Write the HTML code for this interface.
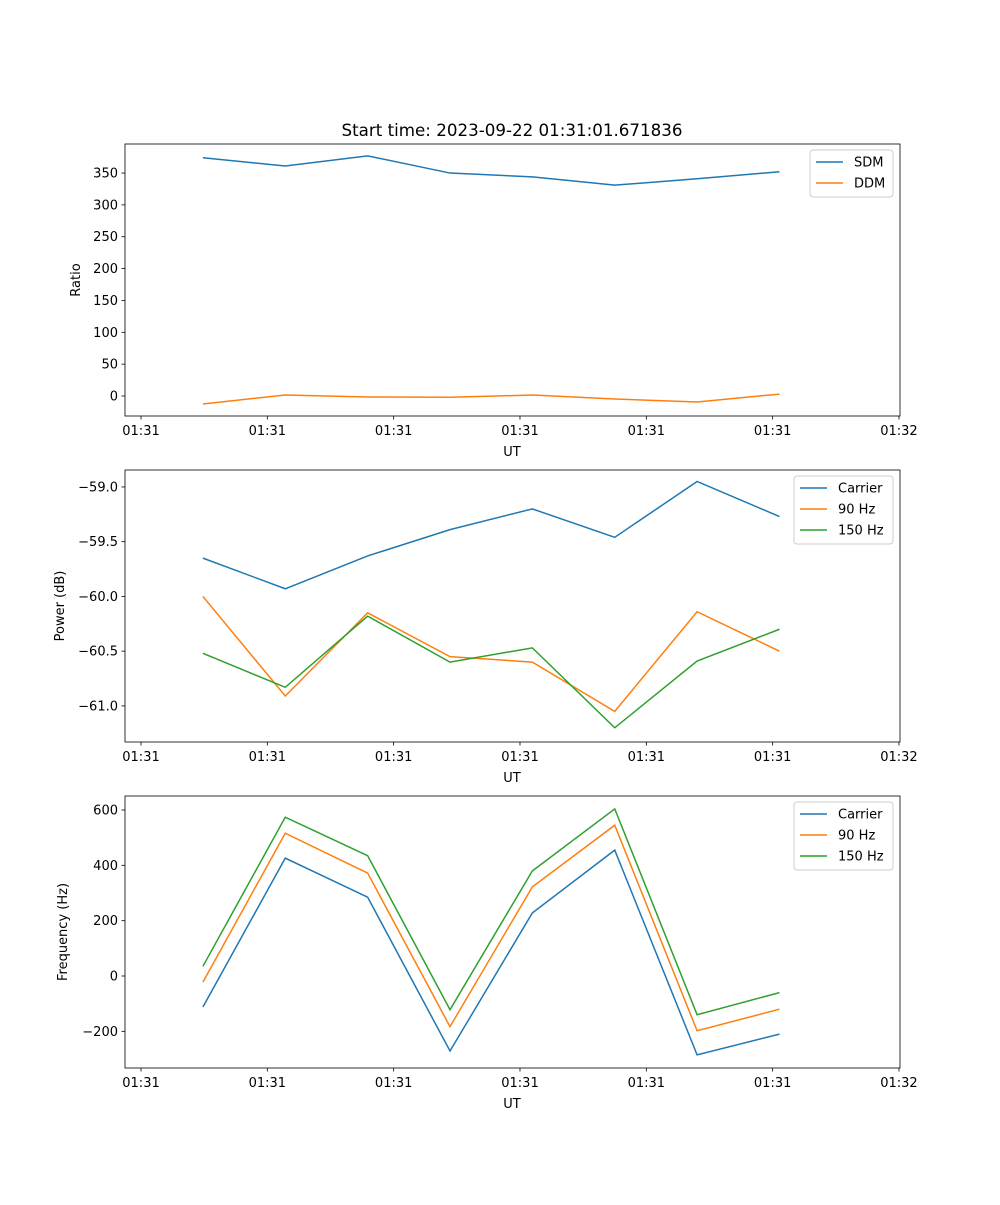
<!DOCTYPE html>
<html><head><meta charset="utf-8"><style>
body{margin:0;background:#fff}
svg text{font-family:"DejaVu Sans","Liberation Sans",sans-serif;fill:#000}
</style></head><body>
<svg id="fig" width="1000" height="1200" xmlns="http://www.w3.org/2000/svg"></svg>
<script>
const times = [0.49, 1.142, 1.794, 2.446, 3.098, 3.75, 4.402, 5.054];
const xTickVals = [0,1,2,3,4,5,6];
const xTickLabels = ["01:31","01:31","01:31","01:31","01:31","01:31","01:32"];
const sdm = [374, 361, 377, 350, 344, 331, 341, 352];
const ddm = [-12.5, 1.6, -1.6, -2, 1.5, -4.7, -9.4, 3];
const powCarrier = [-59.65, -59.93, -59.63, -59.39, -59.2, -59.46, -58.95, -59.27];
const pow90 = [-60.0, -60.91, -60.15, -60.55, -60.6, -61.05, -60.14, -60.5];
const pow150 = [-60.52, -60.83, -60.18, -60.6, -60.47, -61.2, -60.59, -60.3];
const freqCarrier = [-112, 426, 285, -271, 228, 455, -285, -210];
const freq90 = [-22, 516, 372, -183, 322, 545, -198, -120];
const freq150 = [35, 574, 435, -122, 380, 604, -140, -60];
const ticks1 = [0,50,100,150,200,250,300,350];
const ticks2 = [-59.0,-59.5,-60.0,-60.5,-61.0];
const ticks2Labels = ["\u221259.0","\u221259.5","\u221260.0","\u221260.5","\u221261.0"];
const ticks3 = [-200,0,200,400,600];
const ticks3Labels = ["\u2212200","0","200","400","600"];

const NS="http://www.w3.org/2000/svg";
const svg=document.getElementById('fig');
function mk(tag,attrs,parent){const e=document.createElementNS(NS,tag);for(const k in attrs)e.setAttribute(k,attrs[k]);(parent||svg).appendChild(e);return e;}
const X0=125,X1=900;
const xScale=t=>141+t*126.33;

function panel(name,top,ymin,ymax,yt,ytl,series,ylabel,legend){
  const bot=top+272;
  const g=mk('g',{});
  
  
  const ys=v=>bot-(v-ymin)/(ymax-ymin)*272;
  series.forEach(s=>{
    const p=mk('polyline',{points:s.v.map((v,i)=>xScale(times[i])+','+ys(v)).join(' '),fill:'none',stroke:s.c,'stroke-width':1.5},g);
    
    
  });
  mk('rect',{x:X0,y:top,width:X1-X0,height:272,fill:'none',stroke:'#000','stroke-width':0.8},g);
  xTickVals.forEach((t,i)=>{
    const x=xScale(t);
    mk('line',{x1:x,x2:x,y1:bot,y2:bot+3.5,stroke:'#000','stroke-width':0.8},g);
    const tx=mk('text',{x:x,y:bot+19,'font-size':13,'text-anchor':'middle'},g);tx.textContent=xTickLabels[i];
  });
  const xl=mk('text',{x:512,y:bot+40,'font-size':13,'text-anchor':'middle'},g);xl.textContent='UT';
  
  
  yt.forEach((v,i)=>{
    const y=ys(v);
    mk('line',{x1:X0-3.5,x2:X0,y1:y,y2:y,stroke:'#000','stroke-width':0.8},g);
    const tx=mk('text',{x:X0-7,y:y+4.5,'font-size':13,'text-anchor':'end'},g);tx.textContent=ytl[i];
  });
  const yl=mk('text',{x:0,y:0,'font-size':13,'text-anchor':'middle',transform:`translate(${legend.yx},${top+136}) rotate(-90)`},g);yl.textContent=ylabel;
  
  
  const lg=mk('g',{},g);
  
  
  mk('rect',{x:legend.x,y:top+6,width:X1-7-legend.x,height:series.length*21+5,rx:3,fill:'#fff',stroke:'#ccc'},lg);
  series.forEach((s,i)=>{
    const y=top+18+i*21;
    mk('line',{x1:legend.x+6,x2:legend.x+33,y1:y,y2:y,stroke:s.c,'stroke-width':1.5},lg);
    const t=mk('text',{x:legend.x+44,y:y+4.5,'font-size':13},lg);t.textContent=s.label;
  });
}
const title=mk('text',{x:512,y:136,'font-size':16.7,'text-anchor':'middle'});title.textContent='Start time: 2023-09-22 01:31:01.671836';


panel('ratio-panel',144,-31.4,395.6,ticks1,ticks1.map(String),[{n:'sdm',v:sdm,c:'#1f77b4',label:'SDM'},{n:'ddm',v:ddm,c:'#ff7f0e',label:'DDM'}],'Ratio',{x:810,yx:80});
panel('power-panel',470,-61.33,-58.845,ticks2,ticks2Labels,[{n:'power-carrier',v:powCarrier,c:'#1f77b4',label:'Carrier'},{n:'power-90hz',v:pow90,c:'#ff7f0e',label:'90 Hz'},{n:'power-150hz',v:pow150,c:'#2ca02c',label:'150 Hz'}],'Power (dB)',{x:794,yx:64});
panel('frequency-panel',796,-332.5,650.6,ticks3,ticks3Labels,[{n:'freq-carrier',v:freqCarrier,c:'#1f77b4',label:'Carrier'},{n:'freq-90hz',v:freq90,c:'#ff7f0e',label:'90 Hz'},{n:'freq-150hz',v:freq150,c:'#2ca02c',label:'150 Hz'}],'Frequency (Hz)',{x:794,yx:67});
</script>
</body></html>
